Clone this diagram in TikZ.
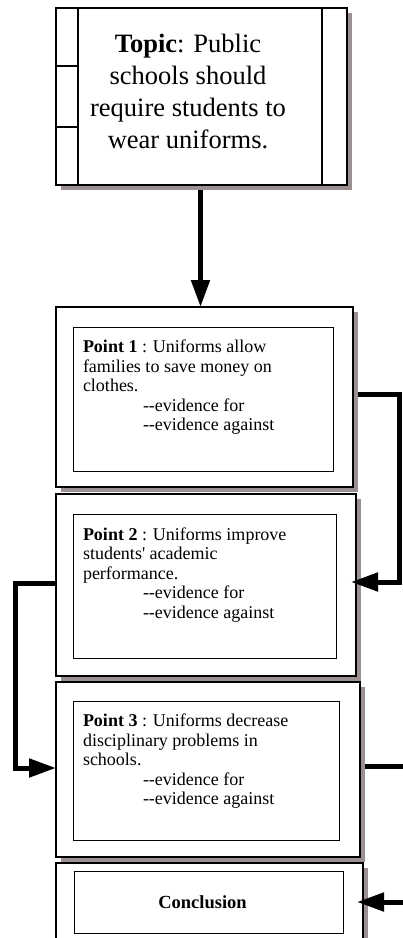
\documentclass[tikz,border=0pt]{standalone}
\usepackage{fontspec}
\newfontfamily\gfont{Liberation Serif}
\usetikzlibrary{arrows.meta,shadows}
\definecolor{shadowc}{RGB}{155,143,143}
\tikzset{
  outerbox/.style={draw=black, line width=1.3pt, fill=white, inner sep=0pt, outer sep=0pt,
    drop shadow={shadow xshift=5pt, shadow yshift=-5pt, fill=shadowc, opacity=1}},
  innerbox/.style={draw=black, line width=1pt, fill=white, inner sep=0pt, outer sep=0pt},
  divline/.style={draw=black, line width=1.3pt},
  conn/.style={draw=black, line width=5pt, -{Triangle[length=27pt,width=18pt]}},
  ptext/.style={inner sep=0pt, outer sep=0pt, anchor=base west, font=\gfont},
}
\newcommand{\ptbox}[1]{\parbox[t]{250pt}{\fontsize{18}{19.5}\selectfont\raggedright #1}}
\begin{document}
\begin{tikzpicture}[x=1pt,y=-1pt]
\useasboundingbox (0,0) rectangle (403,938);
\clip (0,0) rectangle (403,938);
% Topic
\node[outerbox, minimum width=291pt, minimum height=177pt] (topic) at (201.5,96.5) {};
\draw[divline] ([xshift=22pt]topic.north west) -- ([xshift=22pt]topic.south west);
\draw[divline] ([xshift=-25pt]topic.north east) -- ([xshift=-25pt]topic.south east);
\draw[divline] ([yshift=-58pt]topic.north west) -- ++(22,0);
\draw[divline] ([yshift=-119pt]topic.north west) -- ++(22,0);
\node[inner sep=0pt, anchor=base, font=\gfont] (ttext) at (188,52)
  {\parbox[t]{240pt}{\centering\fontsize{26.5}{32}\selectfont \textbf{Topic}: Public\\ schools should\\ require students to\\ wear uniforms.}};
% Point 1
\node[outerbox, minimum width=297pt, minimum height=180pt] (p1) at (204.5,397) {};
\node[innerbox, minimum width=260pt, minimum height=144pt] (p1in) at (203,399) {};
\node[ptext] (p1t) at (83,352.5) {\ptbox{\textbf{Point 1} : Uniforms allow\\ families to save money on\\ clothes.\\ \hspace*{60pt}--evidence for\\ \hspace*{60pt}--evidence against}};
% Point 2
\node[outerbox, minimum width=300pt, minimum height=182pt] (p2) at (206,585) {};
\node[innerbox, minimum width=263pt, minimum height=144pt] (p2in) at (204.5,586) {};
\node[ptext] (p2t) at (83,540) {\ptbox{\textbf{Point 2} : Uniforms improve\\ students' academic\\ performance.\\ \hspace*{60pt}--evidence for\\ \hspace*{60pt}--evidence against}};
% Point 3
\node[outerbox, minimum width=304pt, minimum height=175pt] (p3) at (208,769.5) {};
\node[innerbox, minimum width=266pt, minimum height=139pt] (p3in) at (206,770.5) {};
\node[ptext] (p3t) at (83,726.5) {\ptbox{\textbf{Point 3} : Uniforms decrease\\ disciplinary problems in\\ schools.\\ \hspace*{60pt}--evidence for\\ \hspace*{60pt}--evidence against}};
% Conclusion
\node[outerbox, minimum width=307pt, minimum height=97pt] (concl) at (209.5,911.5) {};
\node[innerbox, minimum width=269pt, minimum height=62pt, font=\gfont\bfseries\fontsize{18.5}{20}\selectfont] (cin) at (208.5,902) {Conclusion\hspace*{12pt}};
% connectors
\coordinate (r1) at (399,0);
\coordinate (l1) at (15.5,0);
\coordinate (r2) at (412,0);
\draw[conn, shorten <=5pt] ([xshift=-1pt]topic.south) -- ([xshift=-1pt]topic.south |- p1.north);
\draw[conn, shorten <=5pt, shorten >=-5pt] ([yshift=3pt]p1.east) -- ([yshift=3pt]p1.east -| r1) |- ([yshift=3pt]p2.east);
\draw[conn] ([yshift=2pt]p2.west) -- ([yshift=2pt]p2.west -| l1) |- ([yshift=1.5pt]p3.west);
\draw[conn, shorten <=5pt, shorten >=-6pt] ([yshift=3.5pt]p3.east) -- ([yshift=3.5pt]p3.east -| r2) |- (cin.east -| concl.east);
\end{tikzpicture}
\end{document}
